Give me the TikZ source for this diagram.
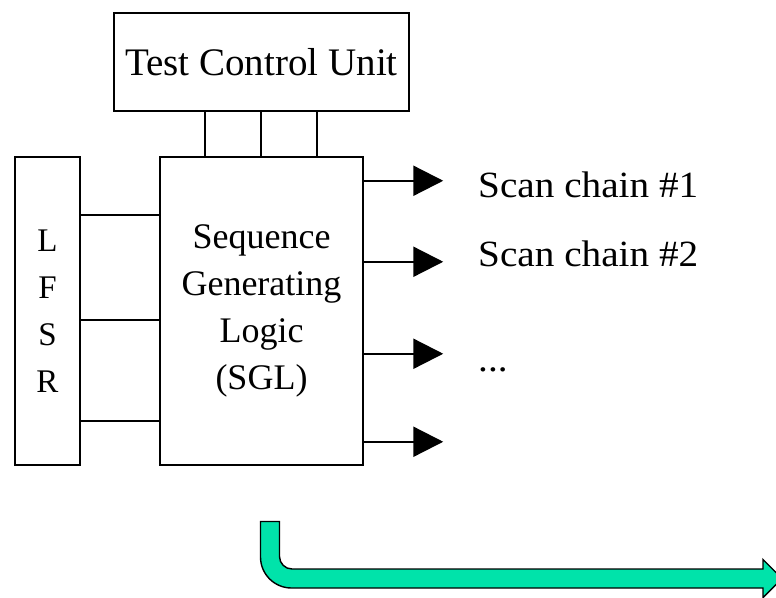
\documentclass[tikz,border=0pt]{standalone}
\usepackage{fontspec}
\setmainfont{Liberation Serif}
\newfontfamily\labelfont{Liberation Serif}[FakeStretch=1.06]
\usetikzlibrary{arrows.meta}
\definecolor{bandgreen}{RGB}{0,227,170}

\begin{document}
\begin{tikzpicture}[x=1pt,y=-1pt,
  box/.style={draw, line width=2.5pt, inner sep=0pt},
  wire/.style={line width=2.5pt},
  outarrow/.style={line width=2.3pt, -{Triangle[length=30pt,width=30pt]}},
  lbl/.style={font=\labelfont\fontsize{37}{47}\selectfont, anchor=base west, inner sep=0pt}]
  \useasboundingbox (0,0) rectangle (776,597);

  % blocks
  \node[box, minimum width=295pt, minimum height=98pt,
        font=\fontsize{39}{47}\selectfont] (tcu) at (261.5,62) {Test Control Unit};
  \node[box, minimum width=203pt, minimum height=308pt, align=center,
        font=\fontsize{36}{47}\selectfont] (sgl) at (261.5,311)
        {Sequence\\Generating\\Logic\\(SGL)};
  \node[box, minimum width=65pt, minimum height=308pt, align=center,
        font=\fontsize{33}{47}\selectfont] (lfsr) at (47.5,311) {L\\F\\S\\R};

  % LFSR to SGL
  \foreach \d in {59,164,265}
    \draw[wire] ([yshift=-\d pt]sgl.north west -| lfsr.east) -- ([yshift=-\d pt]sgl.north west);

  % control lines from the test control unit
  \foreach \d in {46,102,158}
    \draw[wire] ([xshift=\d pt]sgl.north west) -- ([xshift=\d pt]sgl.north west |- tcu.south);

  % outputs to the scan chains
  \foreach \d [count=\i] in {25,106,198,286} {
    \coordinate (o\i) at ([xshift=79pt,yshift=-\d pt]sgl.north east);
    \draw[outarrow] ([yshift=-\d pt]sgl.north east) -- (o\i);
  }
  \node[lbl] (sc1) at (478,197) {Scan chain \#1};
  \node[lbl] (sc2) at (478,266) {Scan chain \#2};
  \node[lbl] (dots) at (478,371) {...};

  % bent block arrow
  \filldraw[fill=bandgreen, draw=black, line width=1.4pt, line join=miter]
    (260.5,521.5) -- (260.5,557) arc[start angle=180, end angle=90, radius=31]
    -- (763,588) -- (763,597.5) -- (782,578.5) -- (763,559.5) -- (763,569)
    -- (292,569) arc[start angle=90, end angle=180, radius=12.5]
    -- (279.5,521.5) -- cycle;
\end{tikzpicture}
\end{document}
